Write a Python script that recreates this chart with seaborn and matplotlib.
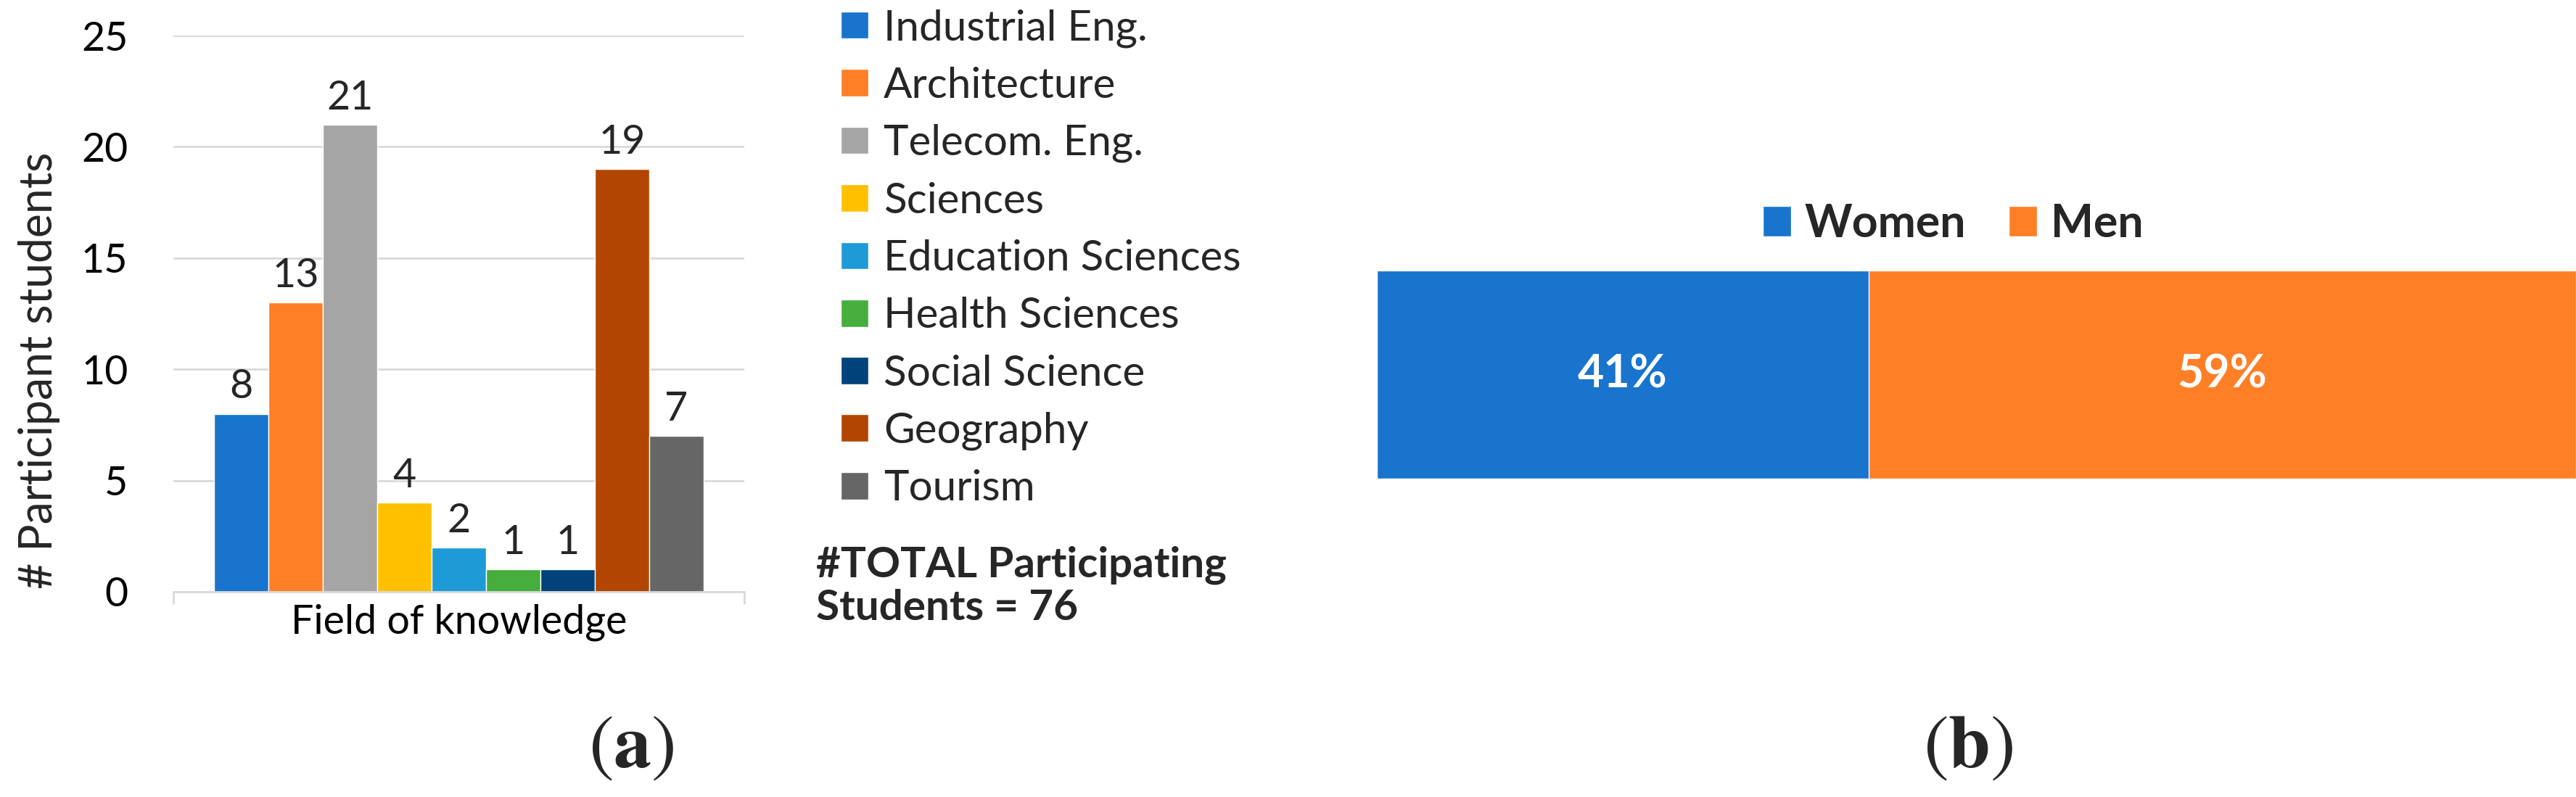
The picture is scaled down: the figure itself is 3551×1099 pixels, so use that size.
import numpy as np
import pandas as pd
import matplotlib
matplotlib.use("Agg")
import matplotlib.pyplot as plt
import seaborn as sns
from matplotlib.patches import Patch

# (a) students per field of knowledge
fields = ['Industrial Eng.', 'Architecture', 'Telecom. Eng.', 'Sciences',
          'Education Sciences', 'Health Sciences', 'Social Science',
          'Geography', 'Tourism']
students = [8, 13, 21, 4, 2, 1, 1, 19, 7]
field_colors = ['#1874CD', '#FF7F27', '#A5A5A5', '#FFC000', '#1E9BD7',
                '#45AE3D', '#00427A', '#B24500', '#666666']
group_name = 'Field of knowledge'
y_ticks = [0, 5, 10, 15, 20, 25]
total_students = 76

# (b) gender split
genders = ['Women', 'Men']
gender_pct = [41, 59]
gender_colors = ['#1874CD', '#FF7F27']

sns.set_theme(style='white')
plt.rcParams['font.family'] = ['Lato', 'DejaVu Sans']
plt.rcParams['mathtext.fontset'] = 'stix'

W, H = 3551, 1099
fig = plt.figure(figsize=(W / 100, H / 100), dpi=100)

# ---- left panel ----
ax1 = fig.add_axes([239 / W, 1 - 816 / H, (1026 - 239) / W, (816 - 49) / H])
df = pd.DataFrame({'group': group_name, 'field': fields, 'students': students})
sns.barplot(data=df, x='group', y='students', hue='field', hue_order=fields,
            palette=field_colors, width=0.857, gap=0, saturation=1,
            errorbar=None, legend=False, ax=ax1)
for c in ax1.containers:
    ax1.bar_label(c, fmt='%d', padding=8, fontsize=40)

ax1.set_ylim(0, 25)
ax1.set_yticks(y_ticks)
ax1.yaxis.grid(True, color='#D9D9D9', linewidth=2)
ax1.set_axisbelow(True)
for s in ['left', 'top', 'right']:
    ax1.spines[s].set_visible(False)
ax1.spines['bottom'].set_color('#D9D9D9')
ax1.spines['bottom'].set_linewidth(2)
ax1.tick_params(axis='y', length=0, pad=45, labelsize=40, colors='black')
ax1.tick_params(axis='x', which='major', length=0, pad=12, labelsize=40, colors='black')
ax1.set_xticks([-0.5, 0.5], minor=True)
ax1.tick_params(axis='x', which='minor', bottom=True, length=12, width=2, color='#D9D9D9')
ax1.set_xlabel('')
ax1.set_ylabel('# Participant students', fontsize=45)
ax1.yaxis.set_label_coords(-0.198, 0.398)

handles = [Patch(facecolor=c) for c in field_colors]
fig.legend(handles, fields, loc='upper left', bbox_to_anchor=(1159 / W, 1 - 12 / H),
           frameon=False, fontsize=42, handlelength=0.65, handleheight=0.62,
           handletextpad=0.36, labelspacing=0.45, borderpad=0, borderaxespad=0)

fig.text(1125 / W, 1 - 752 / H, f'#TOTAL Participating\nStudents = {total_students}',
         fontweight='bold', fontsize=42, ha='left', va='top', linespacing=1.15)

# ---- right panel ----
ax2 = fig.add_axes([1898 / W, 1 - 660 / H, (W - 1898) / W, (660 - 373) / H])
sns.barplot(x=[sum(gender_pct)], y=[''], orient='h', color=gender_colors[1],
            width=1, saturation=1, errorbar=None, ax=ax2)
sns.barplot(x=[gender_pct[0]], y=[''], orient='h', color=gender_colors[0],
            width=1, saturation=1, errorbar=None, ax=ax2)
ax2.set_xlim(0, sum(gender_pct))
ax2.axis('off')

lefts = np.cumsum([0] + gender_pct[:-1])
for left, p in zip(lefts, gender_pct):
    ax2.text(left + p / 2, 0, f'{p}%', color='white', fontweight='bold',
             fontsize=45, ha='center', va='center')

g_handles = [Patch(facecolor=c) for c in gender_colors]
fig.legend(g_handles, genders, loc='center', bbox_to_anchor=(2692 / W, 1 - 309 / H),
           ncol=2, frameon=False, prop={'weight': 'bold', 'size': 45},
           handlelength=0.62, handleheight=0.66, handletextpad=0.3,
           columnspacing=0.95, borderpad=0, borderaxespad=0)

# panel labels
fig.text(870 / W, 1 - 1030 / H, r'$(\mathbf{a})$', fontsize=75, ha='center', va='center')
fig.text(2713 / W, 1 - 1030 / H, r'$(\mathbf{b})$', fontsize=75, ha='center', va='center')

fig.savefig('out.png', dpi=100)
